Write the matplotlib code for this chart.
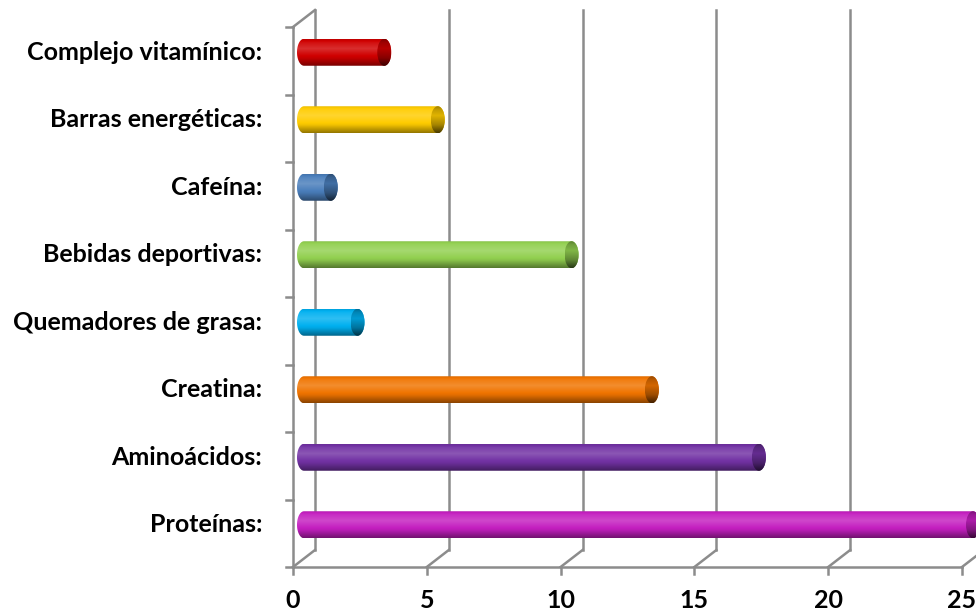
import numpy as np
import matplotlib
matplotlib.use("Agg")
import matplotlib.pyplot as plt
from matplotlib.path import Path
from matplotlib.patches import PathPatch, Ellipse
from matplotlib.transforms import ScaledTranslation
from matplotlib.colors import to_rgb

# supplement usage counts, bottom row first
categories = ["Proteínas:", "Aminoácidos:", "Creatina:", "Quemadores de grasa:",
              "Bebidas deportivas:", "Cafeína:", "Barras energéticas:", "Complejo vitamínico:"]
values = [25, 17, 13, 2, 10, 1, 5, 3]
colors = ["#c41fc0", "#7232a4", "#f07400", "#00b0f0",
          "#92d050", "#4a7ebb", "#ffcc00", "#d00000"]
xticks = [0, 5, 10, 15, 20, 25]

GRID = "#8c8c8c"
FONT = "Lato"

fig = plt.figure(figsize=(9.76, 6.14), dpi=100)
ax = fig.add_axes([0, 0, 1, 1])
ax.axis("off")

# pixels per data unit on each axis
px_x = 669 / 25
px_y = 540 / len(categories)
ax.set_xlim(-293 / px_x, (976 - 293) / px_x)
ax.set_ylim(-47 / px_y, (614 - 47) / px_y)


def shifted(dx, dy):
    return ax.transData + ScaledTranslation(dx / 100, dy / 100, fig.dpi_scale_trans)


back = shifted(22, 17)
mid = shifted(11, 8.5)
ntop = len(categories)

# back wall gridlines
for x in xticks:
    ax.plot([x, x], [0, ntop], color=GRID, lw=1.8, transform=back, zorder=1)
    # floor diagonals
    ax.plot([x, x + 22 / px_x], [0, 17 / px_y], color=GRID, lw=1.8, zorder=1)
    # x tick marks
    ax.plot([x, x], [0, -7 / px_y], color=GRID, lw=1.8, zorder=1)
    ax.text(x, -33 / px_y, str(x), ha="center", va="center", fontsize=18,
            fontweight="bold", family=FONT)

# front floor line and left wall
ax.plot([0, xticks[-1]], [0, 0], color=GRID, lw=1.8, zorder=1)
ax.plot([0, 0], [0, ntop], color=GRID, lw=1.8, zorder=1)
ax.plot([0, 22 / px_x], [ntop, ntop + 17 / px_y], color=GRID, lw=1.8, zorder=1)
for k in range(ntop + 1):
    ax.plot([-7 / px_x, 0], [k, k], color=GRID, lw=1.8, zorder=1)


def shade(base, boost=0.0, n=64):
    t = np.linspace(0, 1, n)
    light = np.interp(t, [0, 0.12, 0.35, 0.7, 1], [-0.08, 0.06, 0.18, -0.05, -0.42]) + boost
    c = np.array(to_rgb(base))
    rows = []
    for l in light:
        if l >= 0:
            rows.append(c + (1 - c) * l)
        else:
            rows.append(c * (1 + l))
    return np.clip(np.array(rows), 0, 1)[:, None, :]


rx = 7 / px_x
h = 13.5 / px_y
th_left = np.linspace(np.pi / 2, 3 * np.pi / 2, 40)
th_right = np.linspace(-np.pi / 2, np.pi / 2, 40)

for i, (v, col) in enumerate(zip(values, colors)):
    yc = i + 0.5
    xs = np.concatenate([rx * np.cos(th_left), v + rx * np.cos(th_right)])
    ys = np.concatenate([yc + h * np.sin(th_left), yc + h * np.sin(th_right)])
    verts = np.column_stack([xs, ys])
    verts = np.vstack([verts, verts[:1]])
    body = PathPatch(Path(verts, closed=True), facecolor="none", edgecolor="none",
                     transform=mid)
    ax.add_patch(body)
    im = ax.imshow(shade(col), extent=[-rx, v + rx, yc - h, yc + h], aspect="auto",
                   origin="upper", transform=mid, zorder=3, interpolation="bilinear")
    im.set_clip_path(body)

    cap = Ellipse((v, yc), 2 * rx, 2 * h, facecolor="none", edgecolor="none",
                  transform=mid)
    ax.add_patch(cap)
    im2 = ax.imshow(shade(col, boost=-0.3), extent=[v - rx, v + rx, yc - h, yc + h],
                    aspect="auto", origin="upper", transform=mid, zorder=4,
                    interpolation="bilinear")
    im2.set_clip_path(cap)

    ax.text(-42 / px_x, yc, categories[i], ha="right", va="center", fontsize=18,
            fontweight="bold", family=FONT, transform=mid)

ax.set_xlim(-293 / px_x, (976 - 293) / px_x)
ax.set_ylim(-47 / px_y, (614 - 47) / px_y)

fig.savefig("out.png", dpi=100)
